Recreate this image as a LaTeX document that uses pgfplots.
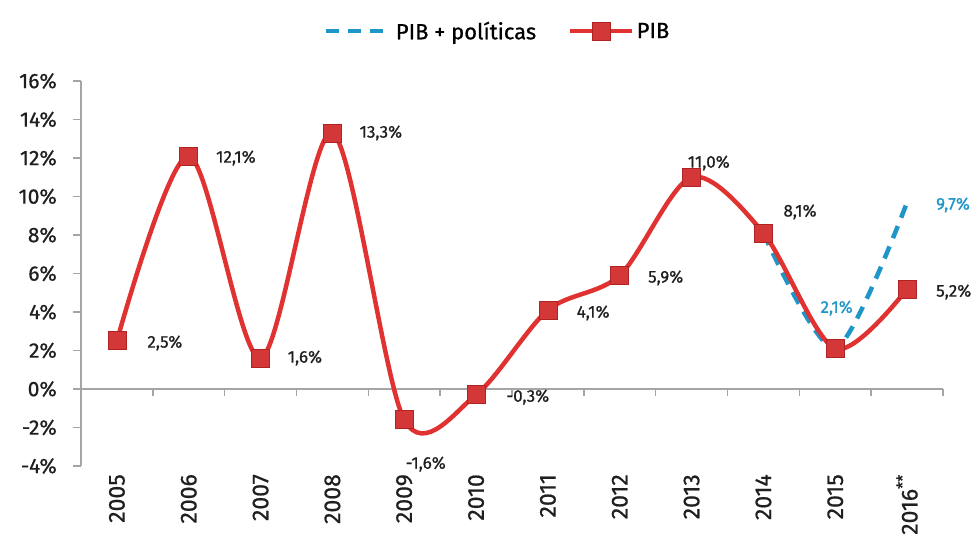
\documentclass[border=0pt]{standalone}
\usepackage{pgfplots}
\pgfplotsset{compat=1.18}
\usepackage{fontspec}
\setmainfont{Fira Sans}[FakeBold=0.7, UprightFeatures={FakeBold=0.7}]
\usetikzlibrary{calc}
\definecolor{pibred}{RGB}{225,50,50}
\definecolor{markred}{RGB}{212,55,55}
\definecolor{markedge}{RGB}{175,35,35}
\definecolor{polblue}{RGB}{30,150,200}
\definecolor{axisgray}{RGB}{165,165,165}
\pgfplotsset{
  bluelegend/.style={legend image code/.code={\draw[##1] (0pt,0pt) -- (66pt,0pt);}},
  redlegend/.style={legend image code/.code={\draw[##1, mark repeat=2, mark phase=2] plot coordinates {(0pt,0pt) (31pt,0pt) (62pt,0pt)};}},
}
\begin{document}
\begin{tikzpicture}
\begin{axis}[
  scale only axis, width=862pt, height=385pt,
  xmin=-0.5, xmax=11.5, ymin=-4, ymax=16,
  clip=false,
  axis y line*=left, axis x line*=bottom,
  x axis line style={draw=none},
  y axis line style={axisgray, line width=1.5pt},
  xtick={0,...,11},
  xticklabels={2005,2006,2007,2008,2009,2010,2011,2012,2013,2014,2015,2016\textsuperscript{**}},
  xtick style={draw=none},
  ytick={-4,-2,0,2,4,6,8,10,12,14,16},
  yticklabels={-4\%,-2\%,0\%,2\%,4\%,6\%,8\%,10\%,12\%,14\%,16\%},
  ytick style={axisgray, line width=1.5pt},
  tick align=outside, major tick length=8pt,
  xticklabel style={rotate=90, anchor=east, inner sep=0pt, font=\fontsize{23}{26}\selectfont, text=black!88},
  yticklabel style={inner sep=0pt, xshift=-16pt, font=\fontsize{21}{24}\selectfont, text=black!88},
  legend style={at={(0.483,1)}, anchor=south, yshift=36pt, draw=none,
    legend columns=2, font=\fontsize{22}{25}\selectfont,
    /tikz/every even column/.append style={column sep=30pt},
    legend cell align=left},
]
\coordinate (sw) at (rel axis cs:0,0);
\draw[axisgray, line width=1.5pt] (axis cs:-0.5,0) -- (axis cs:11.5,0);
\pgfplotsinvokeforeach{0.5,1.5,2.5,3.5,4.5,5.5,6.5,7.5,8.5,9.5,10.5,11.5}{
  \draw[axisgray, line width=1.5pt] (axis cs:#1,0) -- ++(0pt,-7pt);
}
\addplot[polblue, line width=4.5pt, dash pattern=on 13pt off 9pt, smooth, tension=0.45, bluelegend]
  coordinates {(9,8.1) (10,2.1) (11,9.7)};
\addlegendentry{PIB + políticas}
\addplot[pibred, line width=4.5pt, smooth, tension=0.5,
  mark=square*, mark size=9pt,
  mark options={fill=markred, draw=markedge, line width=0.8pt, solid}, redlegend]
  coordinates {(0,2.5) (1,12.1) (2,1.6) (3,13.3) (4,-1.6) (5,-0.3) (6,4.1) (7,5.9) (8,11.0) (9,8.1) (10,2.1) (11,5.2)};
\addlegendentry{PIB}
\begin{scope}[every node/.style={font=\fontsize{17}{20}\selectfont, text=black!88, inner sep=0pt}]
\node at (axis cs:0.668,2.39) {2,5\%};
\node at (axis cs:1.657,12.0) {12,1\%};
\node at (axis cs:2.617,1.61) {1,6\%};
\node at (axis cs:3.675,13.3) {13,3\%};
\node at (axis cs:4.30,-3.9) {-1,6\%};
\node at (axis cs:5.72,-0.42) {-0,3\%};
\node at (axis cs:6.63,3.95) {4,1\%};
\node at (axis cs:7.64,5.77) {5,9\%};
\node at (axis cs:8.24,11.74) {11,0\%};
\node at (axis cs:9.51,9.2) {8,1\%};
\node at (axis cs:11.65,5.04) {5,2\%};
\node[text=polblue] at (axis cs:10.02,4.2) {2,1\%};
\node[text=polblue] at (axis cs:11.64,9.56) {9,7\%};
\end{scope}
\end{axis}
\pgfresetboundingbox
\path[use as bounding box] ($(sw)+(-81pt,-88pt)$) rectangle ($(sw)+(898pt,466pt)$);
\end{tikzpicture}
\end{document}
